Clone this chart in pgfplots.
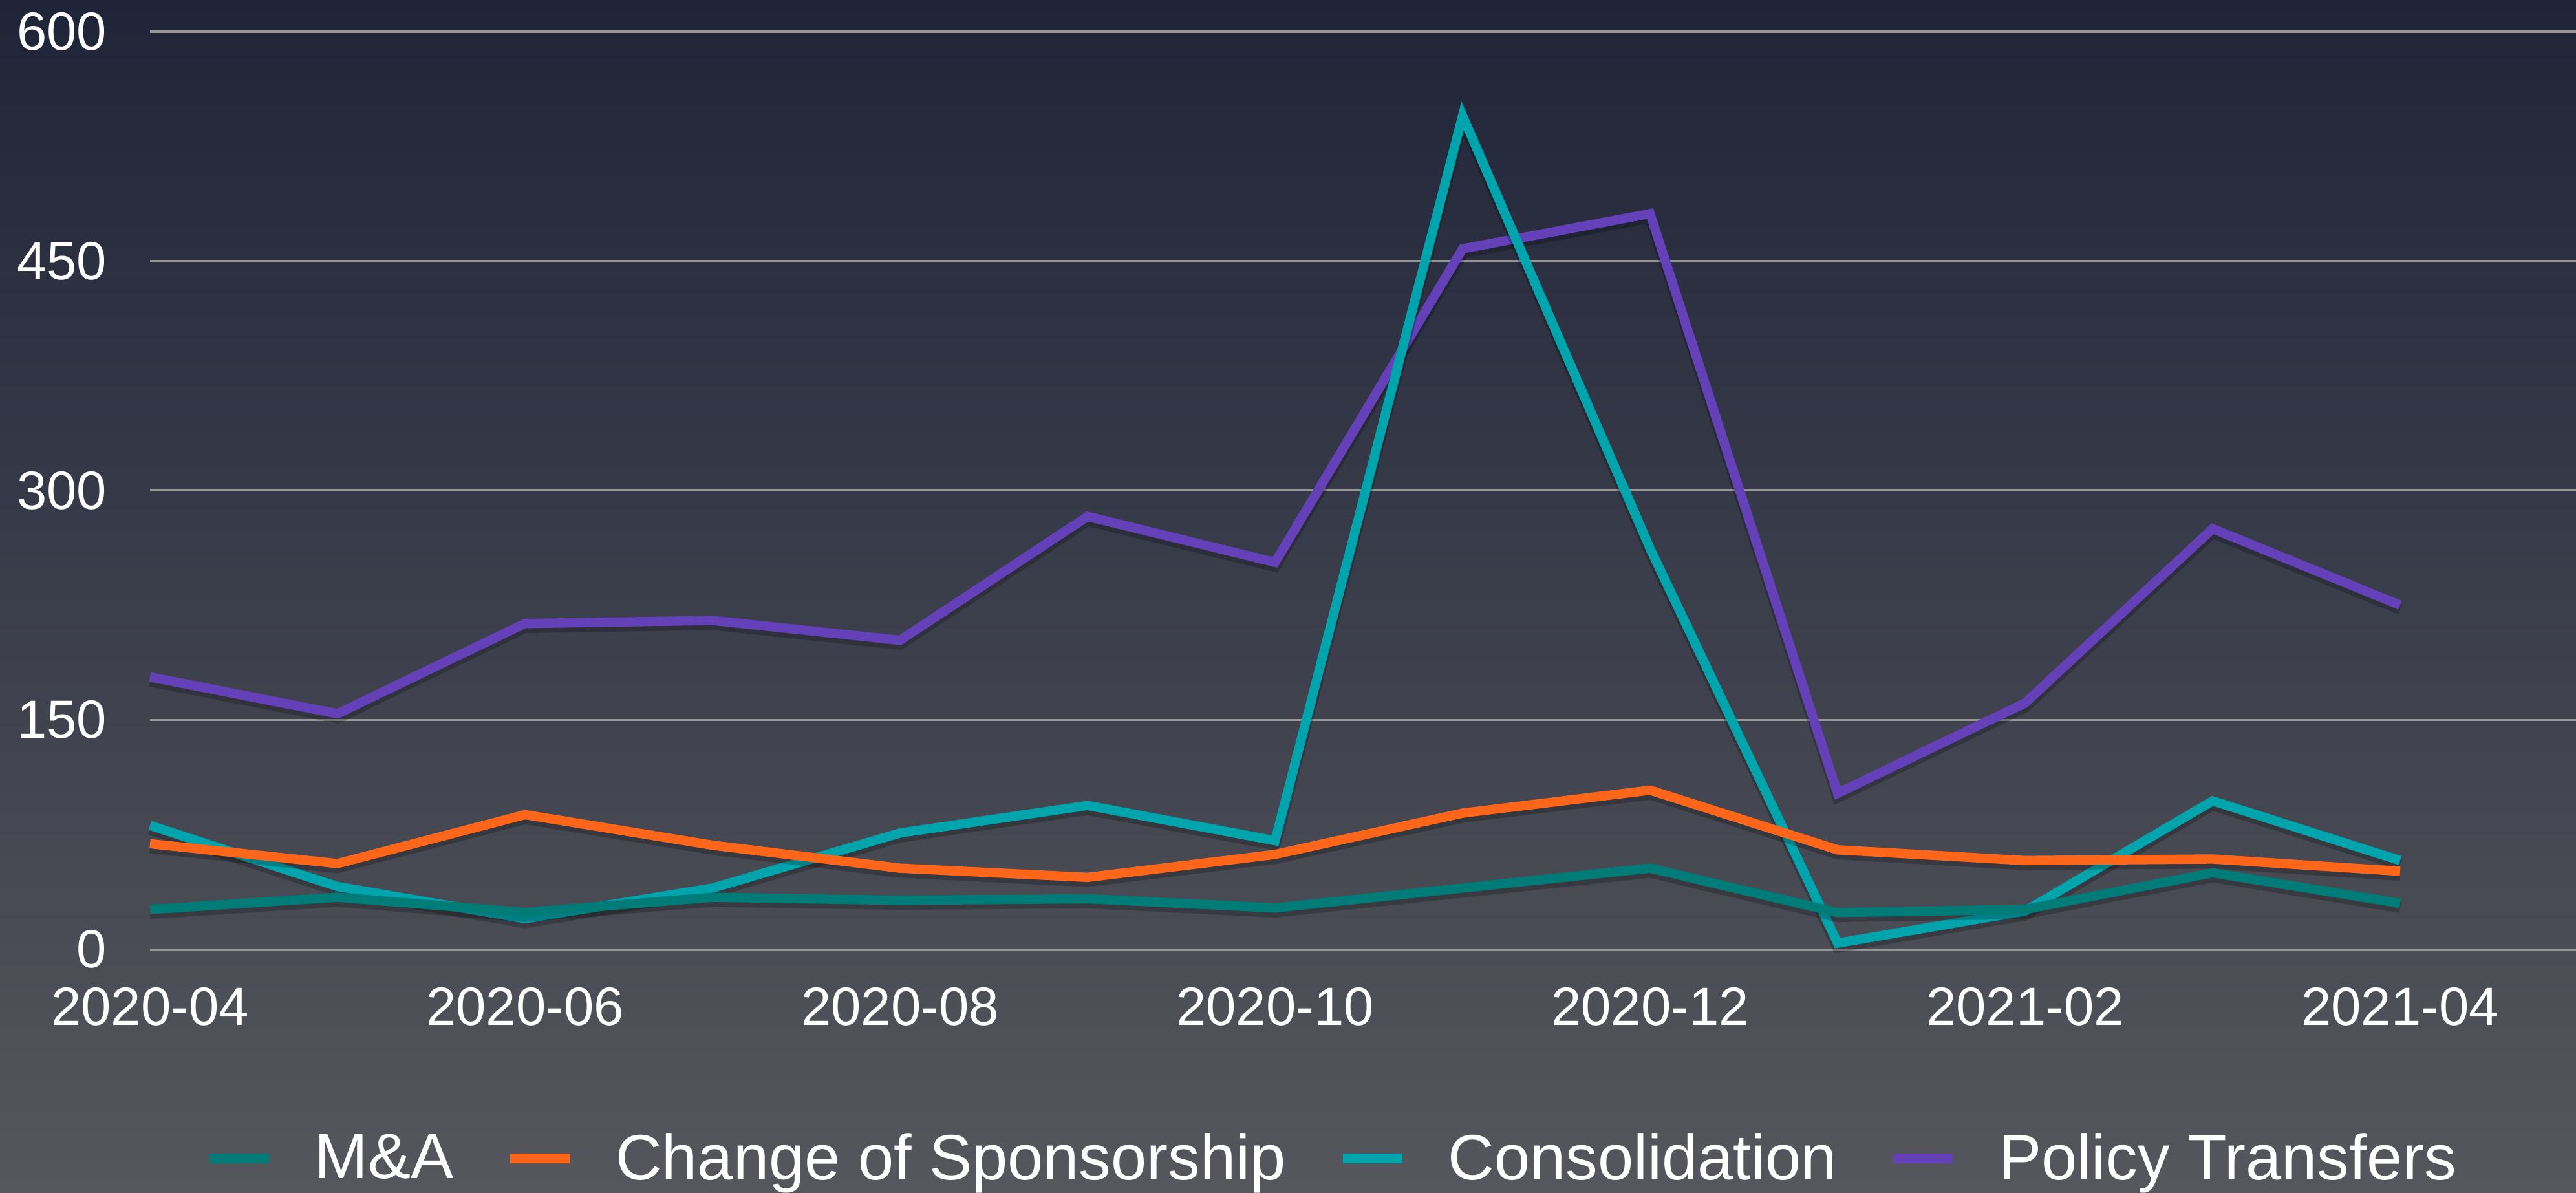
\documentclass[border=0pt]{standalone}
\usepackage{fontspec}
\setmainfont{Liberation Sans}
\usepackage{pgfplots}
\usepackage{pgfplotstable}
\pgfplotsset{compat=1.18}
\definecolor{bgtop}{RGB}{31,36,56}
\definecolor{bgbot}{RGB}{86,87,93}
\definecolor{cMA}{RGB}{0,124,120}
\definecolor{cCoS}{RGB}{255,102,26}
\definecolor{cCons}{RGB}{0,164,172}
\definecolor{cPT}{RGB}{100,65,185}
\definecolor{gridc}{RGB}{150,150,150}
\tikzset{lineshadow/.style={black, opacity=0.22, line width=4.2pt, transform canvas={yshift=-1.6pt}}}

\pgfplotstableread{
idx ma cos cons pt
0 26 69 81 178
1 34 56 41 154
2 24 88 20 213
3 34 68 40 215
4 32 53 76 202
5 33 47 94 283
6 27 62 71 253
7 40 89 545 458
8 53 104 262 481
9 24 65 4 102
10 26 58 25 161
11 50 59 97 275
12 30 51 58 225
}\data

\begin{document}
\begin{tikzpicture}
\path[use as bounding box] (-58pt,-94pt) rectangle (938pt,367pt);
\clip (-58pt,-94pt) rectangle (938pt,367pt);
\shade[top color=bgtop, bottom color=bgbot] (-58pt,-94pt) rectangle (938pt,367pt);
\begin{axis}[
 at={(0pt,0pt)}, anchor=south west,
 scale only axis, width=938pt, height=354.75pt,
 xmin=0, xmax=12.938, ymin=0, ymax=600,
 clip=false, no markers,
 axis line style={draw=none},
 major tick length=0pt,
 ytick={0,150,300,450,600},
 xtick={0,2,4,6,8,10,12},
 xticklabels={2020-04,2020-06,2020-08,2020-10,2020-12,2021-02,2021-04},
 ymajorgrids,
 major grid style={gridc, line width=0.75pt},
 ticklabel style={font=\fontsize{20.8}{24}\selectfont, text=white, inner sep=0pt},
 yticklabel style={anchor=east, xshift=-16.5pt},
 xticklabel style={anchor=north, yshift=-14.75pt},
 /pgf/number format/assume math mode=true,
 legend columns=4, reverse legend,
 legend style={at={(axis description cs:0.4865,-0.2)}, anchor=north, draw=none, fill=none, inner sep=0pt,
   nodes={inner sep=0pt, text=white, font=\fontsize{24.8}{29}\selectfont},
   /tikz/every odd column/.append style={column sep=15.75pt},
   /tikz/every even column/.append style={column sep=20pt}},
 legend image code/.code={\draw[#1, line width=3.9pt, opacity=1] (0pt,0pt) -- (23pt,0pt);},
]
\addplot[lineshadow, forget plot] table[x=idx,y=pt]{\data};
\addplot[cPT, line width=3.6pt] table[x=idx,y=pt]{\data};
\addlegendentry{Policy Transfers}
\addplot[lineshadow, forget plot] table[x=idx,y=cons]{\data};
\addplot[cCons, line width=3.6pt] table[x=idx,y=cons]{\data};
\addlegendentry{Consolidation}
\addplot[lineshadow, forget plot] table[x=idx,y=cos]{\data};
\addplot[cCoS, line width=3.6pt] table[x=idx,y=cos]{\data};
\addlegendentry{Change of Sponsorship}
\addplot[lineshadow, forget plot] table[x=idx,y=ma]{\data};
\addplot[cMA, line width=3.6pt] table[x=idx,y=ma]{\data};
\addlegendentry{M\&A}
\end{axis}
\end{tikzpicture}
\end{document}
